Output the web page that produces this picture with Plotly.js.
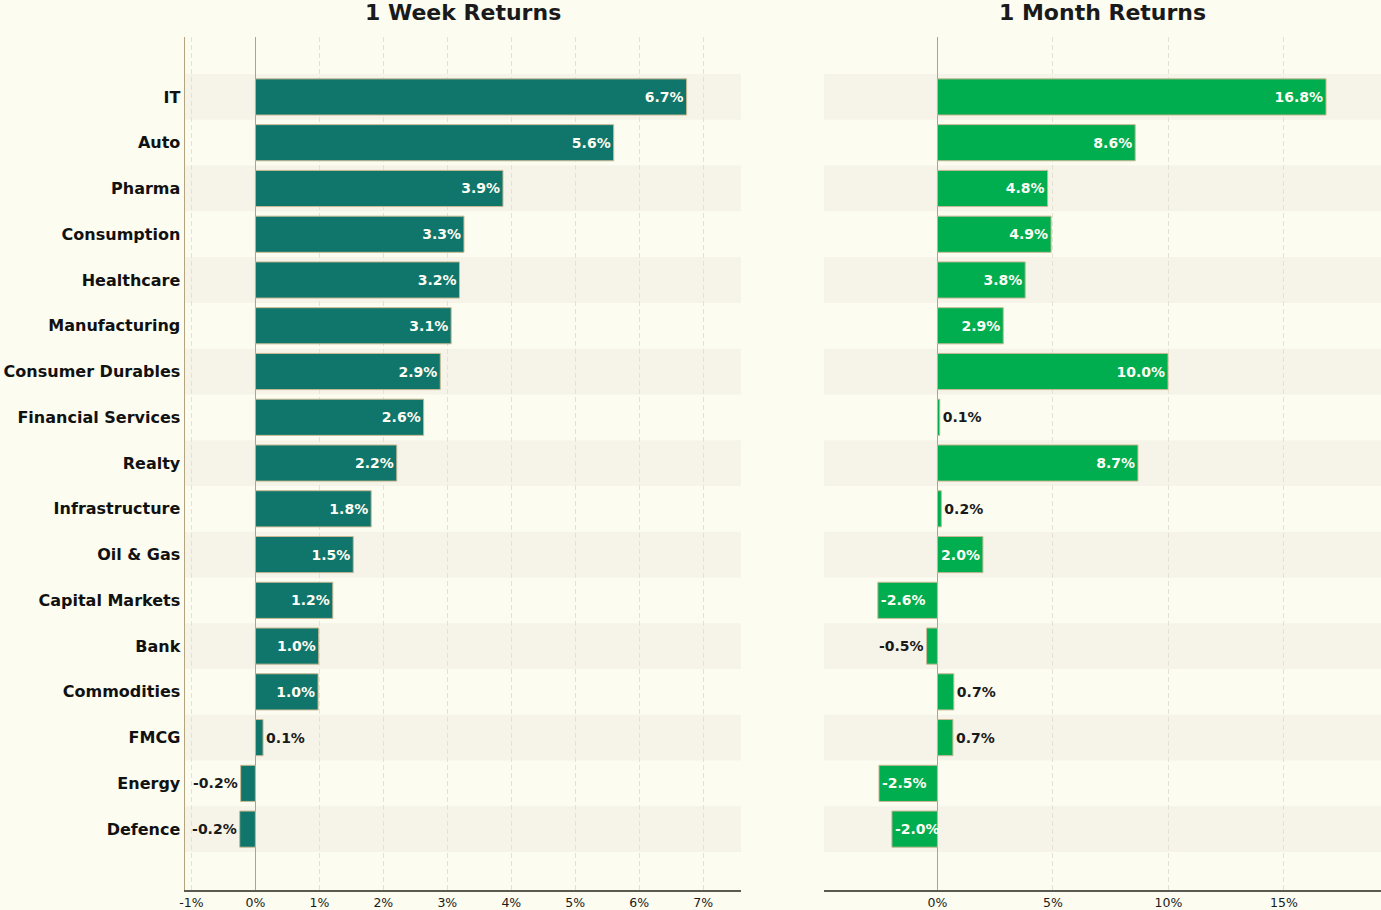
<!DOCTYPE html>
<html>
<head>
<meta charset="utf-8">
<script src="https://cdn.plot.ly/plotly-3.0.1.min.js"></script>
<style>
  html, body { margin: 0; padding: 0; background: #fcfcf0; }
  #plot { width: 1381px; height: 910px; }
</style>
</head>
<body>
<div id="plot"></div>
<script>
// sectors, top to bottom
const sectors = ['IT', 'Auto', 'Pharma', 'Consumption', 'Healthcare', 'Manufacturing',
  'Consumer Durables', 'Financial Services', 'Realty', 'Infrastructure', 'Oil & Gas',
  'Capital Markets', 'Bank', 'Commodities', 'FMCG', 'Energy', 'Defence'];

// returns in %
const weekReturns = [6.74, 5.6, 3.87, 3.26, 3.19, 3.06, 2.89, 2.63, 2.21, 1.81, 1.53,
  1.21, 0.99, 0.98, 0.12, -0.23, -0.245];
const monthReturns = [16.82, 8.56, 4.77, 4.92, 3.8, 2.85, 9.98, 0.1, 8.68, 0.17, 1.97,
  -2.58, -0.47, 0.71, 0.67, -2.53, -1.97];

const weekTicks = [-1, 0, 1, 2, 3, 4, 5, 6, 7];
const monthTicks = [0, 5, 10, 15];

const bg = '#fcfcf0';
const bandColor = '#f6f4e8';
const tan = '#b3a47f';
const font = 'DejaVu Sans, sans-serif';

function pct(v) { return v.toFixed(1) + '%'; }

// small bars get their label outside, the rest inside
function positions(vals) {
  const big = Math.max(...vals.map(Math.abs));
  return vals.map(v => Math.abs(v) > 0.1 * big ? 'inside' : 'outside');
}

function barTrace(vals, color, xa, ya) {
  return {
    type: 'bar',
    orientation: 'h',
    x: vals,
    y: sectors,
    xaxis: xa,
    yaxis: ya,
    width: 0.79,
    text: vals.map(pct),
    textposition: positions(vals),
    insidetextanchor: 'end',
    cliponaxis: false,
    constraintext: 'none',
    insidetextfont: {family: font, size: 14, color: '#fdfdf3', weight: 'bold'},
    outsidetextfont: {family: font, size: 14, color: '#1a1a1a', weight: 'bold'},
    marker: {color: color, line: {color: '#c9b994', width: 1}},
    hoverinfo: 'x+y',
    showlegend: false
  };
}

let shapes = [];
for (let i = 0; i < sectors.length; i += 2) {
  ['', '2'].forEach(s => {
    shapes.push({
      type: 'rect', layer: 'below',
      xref: 'x' + s + ' domain', x0: 0, x1: 1,
      yref: 'y' + s, y0: i - 0.5, y1: i + 0.5,
      fillcolor: bandColor, line: {width: 0}
    });
  });
}

const yRange = [17.33, -1.31];

function xAxis(domain, range, ticks, anchor) {
  return {
    domain: domain,
    anchor: anchor,
    range: range,
    tickvals: ticks,
    ticktext: ticks.map(v => v + '%'),
    tickfont: {family: font, size: 12.5, color: '#1a1a1a'},
    showgrid: true,
    gridcolor: '#e6e2d2',
    griddash: '5px,3px',
    gridwidth: 1,
    zeroline: true,
    zerolinecolor: tan,
    zerolinewidth: 1.5,
    showline: true,
    linecolor: '#5a5a52',
    linewidth: 1.5,
    ticks: '',
    fixedrange: true
  };
}

const layout = {
  width: 1381,
  height: 910,
  paper_bgcolor: bg,
  plot_bgcolor: bg,
  margin: {l: 0, r: 0, t: 37, b: 20},
  font: {family: font, color: '#1a1a1a'},
  shapes: shapes,
  xaxis: xAxis([185 / 1381, 741 / 1381], [-1.1, 7.59], weekTicks, 'y'),
  yaxis: {
    type: 'category',
    categoryorder: 'array',
    categoryarray: sectors,
    range: yRange,
    tickfont: {family: font, size: 16, color: '#111111', weight: 'bold'},
    showgrid: false,
    zeroline: false,
    showline: true,
    linecolor: tan,
    linewidth: 1.5,
    ticks: '',
    fixedrange: true
  },
  xaxis2: xAxis([824 / 1381, 1], [-4.91, 19.2], monthTicks, 'y2'),
  yaxis2: {
    type: 'category',
    categoryorder: 'array',
    categoryarray: sectors,
    anchor: 'x2',
    range: yRange,
    showticklabels: false,
    showgrid: false,
    zeroline: false,
    showline: false,
    ticks: '',
    fixedrange: true
  },
  annotations: [
    {text: '1 Week Returns', xref: 'paper', yref: 'paper', x: 463 / 1381, y: 1,
     yshift: 25, showarrow: false, xanchor: 'center', yanchor: 'middle',
     font: {family: font, size: 22, color: '#1a1a1a', weight: 'bold'}},
    {text: '1 Month Returns', xref: 'paper', yref: 'paper', x: 1102 / 1381, y: 1,
     yshift: 25, showarrow: false, xanchor: 'center', yanchor: 'middle',
     font: {family: font, size: 22, color: '#1a1a1a', weight: 'bold'}}
  ]
};

Plotly.newPlot('plot', [
  barTrace(weekReturns, '#10756b', 'x', 'y'),
  barTrace(monthReturns, '#00ad4f', 'x2', 'y2')
], layout, {displayModeBar: false, staticPlot: true});
</script>
</body>
</html>
